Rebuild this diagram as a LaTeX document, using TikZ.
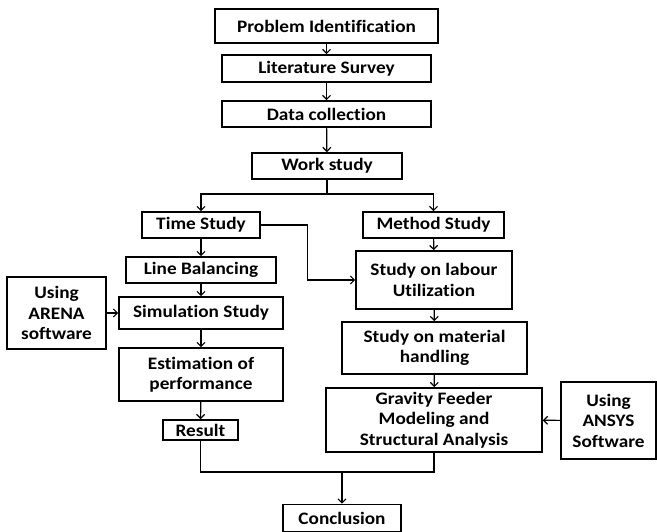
\documentclass[tikz,border=0pt]{standalone}
\usepackage{fontspec}
\setmainfont[Ligatures=NoCommon,FakeStretch=1.1]{Carlito}
\usetikzlibrary{arrows.meta}
\begin{document}
\begin{tikzpicture}[
	box/.style={draw,line width=1.6pt,inner sep=0pt,align=center,font=\bfseries\fontsize{17.5}{20.5}\selectfont},
	link/.style={line width=1.2pt,-{Straight Barb[length=4pt,width=8pt]}}]
	\useasboundingbox (0pt,0pt) rectangle (657pt,-532pt);
	\draw (326.5pt,-26pt) node[box,minimum width=223pt,minimum height=34pt] (prob) {Problem Identification};
	\draw (326.5pt,-68.5pt) node[box,minimum width=209pt,minimum height=27pt] (lit) {Literature Survey};
	\draw (326.5pt,-114pt) node[box,minimum width=209pt,minimum height=26pt] (data) {Data collection};
	\draw (327pt,-166pt) node[box,minimum width=150pt,minimum height=26pt] (work) {Work study};
	\draw (201pt,-225pt) node[box,minimum width=118pt,minimum height=26pt] (time) {Time Study};
	\draw (201pt,-270pt) node[box,minimum width=150pt,minimum height=26pt] (lineb) {Line Balancing};
	\draw (56.5pt,-313pt) node[box,minimum width=99pt,minimum height=72pt] (arena) {Using\\ARENA\\software};
	\draw (201pt,-313pt) node[box,minimum width=164pt,minimum height=32pt] (sim) {Simulation Study};
	\draw (201pt,-374.5pt) node[box,minimum width=164pt,minimum height=53pt] (est) {Estimation of\\performance};
	\draw (200.5pt,-430pt) node[box,minimum width=75pt,minimum height=20pt] (result) {Result};
	\draw (433.5pt,-225pt) node[box,minimum width=141pt,minimum height=26pt] (method) {Method Study};
	\draw (434pt,-280pt) node[box,minimum width=156pt,minimum height=58pt] (labour) {Study on labour\\Utilization};
	\draw (434.5pt,-348pt) node[box,minimum width=185pt,minimum height=52pt] (material) {Study on material\\handling};
	\draw (434pt,-420pt) node[box,minimum width=216pt,minimum height=64pt] (gravity) {Gravity Feeder\\Modeling and\\Structural Analysis};
	\draw (608.5pt,-420.5pt) node[box,minimum width=95pt,minimum height=77pt] (ansys) {Using\\ANSYS\\Software};
	\draw (342pt,-518pt) node[box,minimum width=118pt,minimum height=27pt] (concl) {Conclusion};
	\coordinate (split) at (327pt,-194pt);
	\coordinate (join) at (342pt,-472pt);
	\draw[link] (prob) -- (lit);
	\draw[link] (lit) -- (data);
	\draw[link] (data) -- (work);
	\draw[link,-] (work) -- (split);
	\draw[link] (split) -| (time);
	\draw[link] (split) -| (method);
	\draw[link] (time) -- (lineb);
	\draw[link] (lineb) -- (sim);
	\draw[link] (arena) -- (sim);
	\draw[link] (sim) -- (est);
	\draw[link] (est) -- (result);
	\draw[link] (time.east) -- ++(47pt,0pt) |- (labour.west);
	\draw[link] (method) -- (labour);
	\draw[link] (labour) -- (material);
	\draw[link] (material) -- (gravity);
	\draw[link] (ansys) -- (gravity);
	\draw[link,-] (result) |- (join);
	\draw[link,-] (gravity) |- (join);
	\draw[link] (join) -- (concl);
\end{tikzpicture}
\end{document}
